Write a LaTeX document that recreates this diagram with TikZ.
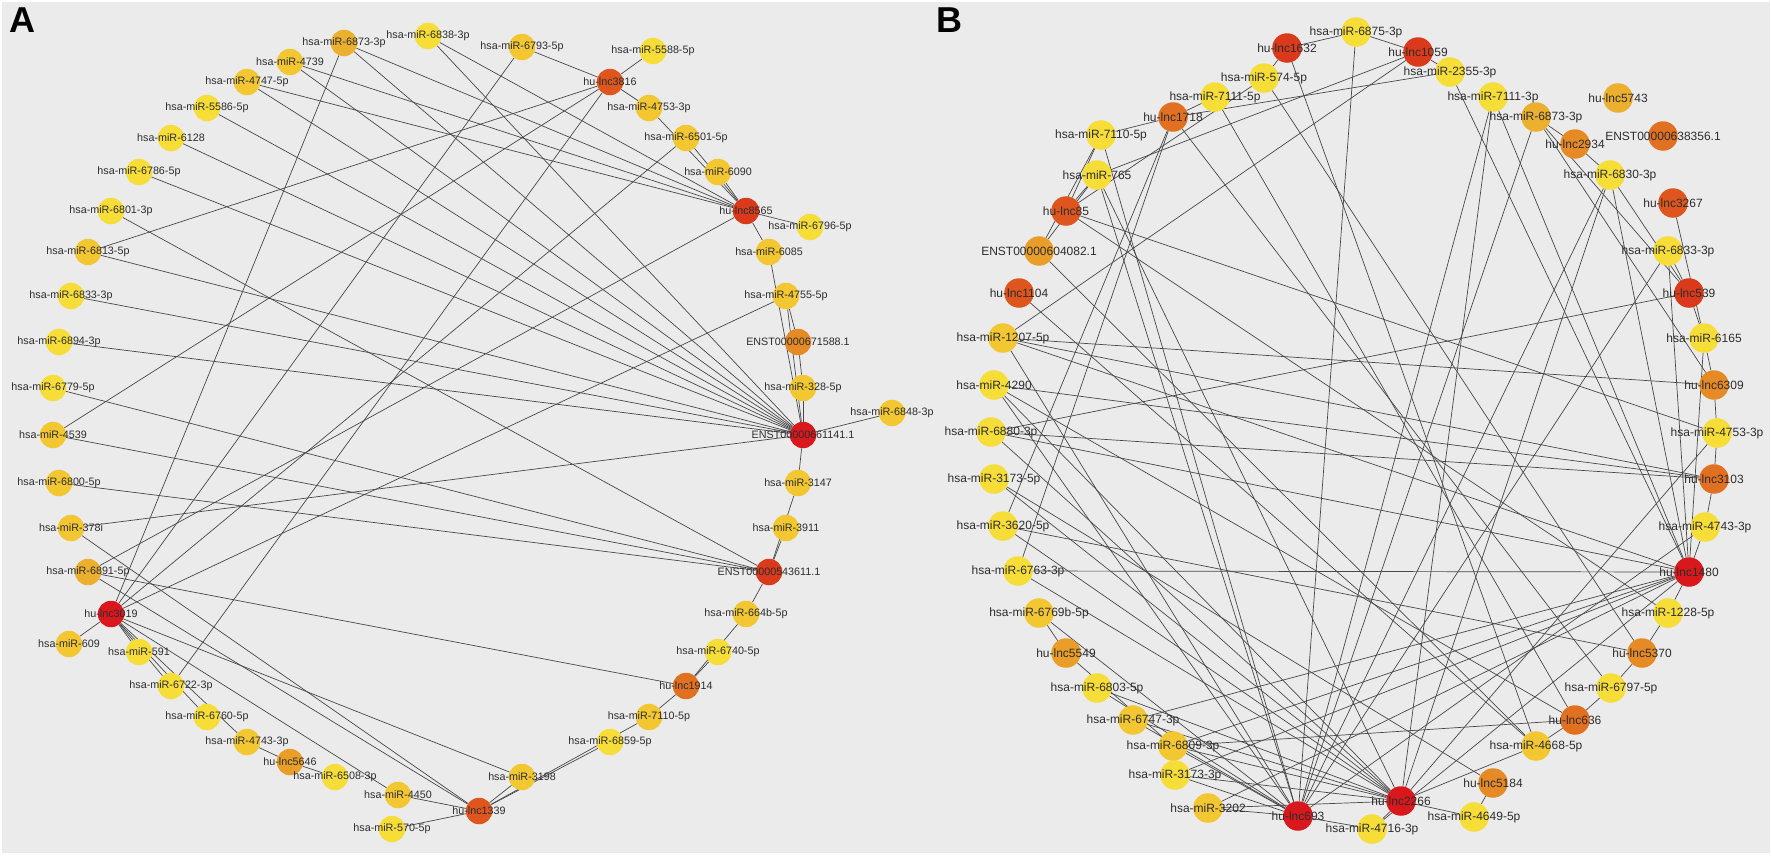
\documentclass[tikz,border=0pt]{standalone}
\usepackage{fontspec}
\setmainfont{Liberation Sans}
\usepackage{xcolor}
\usepackage{tikz}
\usetikzlibrary{positioning, backgrounds}
\definecolor{PanelGray}{RGB}{235,235,235}
\definecolor{EdgeGray}{RGB}{72,72,72}
\definecolor{TextGray}{RGB}{45,45,45}
\definecolor{cY}{RGB}{246,221,56}
\definecolor{cYb}{RGB}{242,199,50}
\definecolor{cG}{RGB}{234,176,46}
\definecolor{cGO}{RGB}{232,158,40}
\definecolor{cO}{RGB}{229,138,37}
\definecolor{cOd}{RGB}{226,112,33}
\definecolor{cRo}{RGB}{222,86,30}
\definecolor{cRd}{RGB}{218,58,27}
\definecolor{cR}{RGB}{216,24,29}
\tikzset{
	dotA/.style={circle, inner sep=0pt, minimum size=26.5pt, fill=#1},
	dotB/.style={circle, inner sep=0pt, minimum size=29.5pt, fill=#1},
	txtA/.style={inner sep=0pt, text=TextGray, font=\fontsize{10.75}{12}\selectfont},
	txtB/.style={inner sep=0pt, text=TextGray, font=\fontsize{12}{14}\selectfont},
	link/.style={draw=EdgeGray, line width=0.7pt},
	panel/.style={inner sep=0pt, font=\fontsize{36}{40}\selectfont\bfseries},
}
% panel A: name/x/y/colour/text
\def\nodesA{a6873/344/43/cG/hsa-miR-6873-3p, a6838/428/36/cY/hsa-miR-6838-3p,
	a4739/290/62/cYb/hsa-miR-4739, a4747/247/82/cYb/hsa-miR-4747-5p,
	a5586/207/108/cY/hsa-miR-5586-5p, a6128/171/138/cY/hsa-miR-6128,
	a6786/139/172/cY/hsa-miR-6786-5p, a6801/111/211/cY/hsa-miR-6801-3p,
	a6813/88/252/cYb/hsa-miR-6813-5p, a6833/71/296/cY/hsa-miR-6833-3p,
	a6894/59/342/cY/hsa-miR-6894-3p, a6779/53/388/cY/hsa-miR-6779-5p,
	a4539/53/435/cYb/hsa-miR-4539, a6800/59/483/cYb/hsa-miR-6800-5p,
	a378i/71/528/cYb/hsa-miR-378i, a6891/88/572/cG/hsa-miR-6891-5p,
	aL3019/111/614/cR/hu-lnc3019, a609/69/644/cYb/hsa-miR-609,
	a591/139/652/cY/hsa-miR-591, a6722/171/686/cY/hsa-miR-6722-3p,
	a6760/207/717/cY/hsa-miR-6760-5p, a4743/247/742/cYb/hsa-miR-4743-3p,
	aL5646/290/762/cGO/hu-lnc5646, a6508/335/777/cY/hsa-miR-6508-3p,
	a4450/398/795/cYb/hsa-miR-4450, a570/392/829/cY/hsa-miR-570-5p,
	aL1339/479/811/cRo/hu-lnc1339, a3198/522/777/cYb/hsa-miR-3198,
	a6859/610/742/cY/hsa-miR-6859-5p, a7110/649/717/cYb/hsa-miR-7110-5p,
	aL1914/686/686/cOd/hu-lnc1914, a6740/718/652/cY/hsa-miR-6740-5p,
	a664b/746/614/cYb/hsa-miR-664b-5p, aE543611/769/572/cRd/ENST00000543611.1,
	a3911/786/528/cYb/hsa-miR-3911, a3147/798/483/cYb/hsa-miR-3147,
	aE661141/803/435/cR/ENST00000661141.1, a6848/892/413/cYb/hsa-miR-6848-3p,
	a328/803/388/cYb/hsa-miR-328-5p, aE671588/798/342/cO/ENST00000671588.1,
	a4755/786/296/cYb/hsa-miR-4755-5p, a6085/769/252/cYb/hsa-miR-6085,
	a6796/810/227/cY/hsa-miR-6796-5p, aL8565/746/211/cRd/hu-lnc8565,
	a6090/718/172/cYb/hsa-miR-6090, a6501/686/138/cYb/hsa-miR-6501-5p,
	a4753/649/108/cYb/hsa-miR-4753-3p, aL3816/610/82/cRo/hu-lnc3816,
	a5588/653/51/cY/hsa-miR-5588-5p, a6793/522/47/cYb/hsa-miR-6793-5p}
% panel B
\def\nodesB{bL1632/1287/48/cRd/hu-lnc1632, b6875/1356/32/cY/hsa-miR-6875-3p,
	bL1059/1418/52/cRd/hu-lnc1059, b2355/1450/72/cY/hsa-miR-2355-3p,
	b7111t/1493/97/cY/hsa-miR-7111-3p, b6873/1536/117/cG/hsa-miR-6873-3p,
	bL5743/1618/98/cG/hu-lnc5743, bL2934/1575/144/cO/hu-lnc2934,
	bE638356/1663/136/cOd/ENST00000638356.1, b6830/1610/175/cY/hsa-miR-6830-3p,
	bL3267/1673/203/cRo/hu-lnc3267, b6833/1668/251/cY/hsa-miR-6833-3p,
	bL539/1689/293/cRd/hu-lnc539, b6165/1704/338/cY/hsa-miR-6165,
	bL6309/1714/385/cO/hu-lnc6309, b4753/1717/433/cY/hsa-miR-4753-3p,
	bL3103/1714/479/cOd/hu-lnc3103, b4743/1705/527/cY/hsa-miR-4743-3p,
	bL1480/1689/572/cR/hu-lnc1480, b1228/1668/613/cY/hsa-miR-1228-5p,
	bL5370/1642/653/cO/hu-lnc5370, b6797/1611/688/cY/hsa-miR-6797-5p,
	bL636/1575/720/cOd/hu-lnc636, b4668/1536/746/cYb/hsa-miR-4668-5p,
	bL5184/1493/783/cO/hu-lnc5184, b4649/1474/817/cY/hsa-miR-4649-5p,
	bL2266/1401/801/cR/hu-lnc2266, b4716/1372/829/cY/hsa-miR-4716-3p,
	bL693/1298/816/cR/hu-lnc693, b3202/1208/808/cYb/hsa-miR-3202,
	b3173t/1175/775/cY/hsa-miR-3173-3p, b6809/1173/746/cYb/hsa-miR-6809-3p,
	b6747/1133/720/cYb/hsa-miR-6747-3p, b6803/1097/688/cY/hsa-miR-6803-5p,
	bL5549/1066/653/cGO/hu-lnc5549, b6769b/1039/613/cYb/hsa-miR-6769b-5p,
	b6763/1018/571/cY/hsa-miR-6763-3p, b3620/1003/526/cY/hsa-miR-3620-5p,
	b3173f/994/479/cY/hsa-miR-3173-5p, b6880/991/432/cY/hsa-miR-6880-3p,
	b4290/994/385/cY/hsa-miR-4290, b1207/1003/338/cYb/hsa-miR-1207-5p,
	bL1104/1019/293/cRo/hu-lnc1104, bE604082/1039/251/cGO/ENST00000604082.1,
	bL85/1066/211/cRo/hu-lnc85, b765/1097/175/cY/hsa-miR-765,
	b7110/1101/135/cY/hsa-miR-7110-5p, bL1718/1173/117/cOd/hu-lnc1718,
	b7111f/1215/97/cY/hsa-miR-7111-5p, b574/1264/78/cY/hsa-miR-574-5p}

\begin{document}
\begin{tikzpicture}[x=1pt,y=-1pt]
	\useasboundingbox (0,0) rectangle (1772,855);

	\foreach \n/\x/\y/\c/\t in \nodesA
		\node[dotA=\c] (\n) at (\x,\y) {};
	\foreach \n/\x/\y/\c/\t in \nodesB
		\node[dotB=\c] (\n) at (\x,\y) {};

	\foreach \n/\x/\y/\c/\t in \nodesA
		\node[txtA] (\n-t) at (\n) {\t};
	\foreach \n/\x/\y/\c/\t in \nodesB
		\node[txtB] (\n-t) at (\n) {\t};

	\node[panel] (lblA) at (22.5,20) {A};
	\node[panel] (lblB) at (949,20) {B};

	\begin{scope}[on background layer]
		\fill[PanelGray] (2,2) rectangle (1770,853);
		% panel A links
		\foreach \u/\v in {aE661141/a6873, aE661141/a6838, aE661141/a4739, aE661141/a4747,
			aE661141/a5586, aE661141/a6128, aE661141/a6786, aE661141/a6813, aE661141/a6833,
			aE661141/a6894, aE661141/a378i, aE661141/a6848, aE661141/a328, aE661141/a4755,
			aE661141/a6085, aE661141/a3147,
			aL8565/a6873, aL8565/a6838, aL8565/a4739, aL8565/a4747, aL8565/a6090,
			aL8565/a6501, aL8565/a4753, aL8565/a6796, aL8565/a6085, aL8565/a6891,
			aL3816/a6793, aL3816/a5588, aL3816/a4753, aL3816/a6813, aL3816/a4539, aL3816/a6722,
			aL3019/a6873, aL3019/a6793, aL3019/a6501, aL3019/a4755, aL3019/a609, aL3019/a591,
			aL3019/a6722, aL3019/a6760, aL3019/a4743, aL3019/a3198, aL3019/a4450,
			aE543611/a6779, aE543611/a4539, aE543611/a6800, aE543611/a6801, aE543611/a3911,
			aE543611/a664b, aE543611/a3147,
			aL1339/a378i, aL1339/a6891, aL1339/a4450, aL1339/a570, aL1339/a3198,
			aL1339/a6859, aL1339/a7110,
			aL1914/a6891, aL1914/a6740, aL1914/a664b, aL1914/a7110,
			aL5646/a4743, aL5646/a6508, aE671588/a4755, aE671588/a328}
			\draw[link] (\u) -- (\v);
		% panel B links
		\foreach \u/\v in {bL1632/b574, bL1632/b6875, bL1632/b4668,
			bL1059/b6875, bL1059/b2355, bL1059/b765, bL1059/b1207,
			bL1718/b2355, bL1718/b7110, bL1718/b7111f, bL1718/b6763, bL1718/b3620, bL1718/b6797,
			bL85/b574, bL85/b7110, bL85/b765, bL85/b1228, bL85/b4753,
			bE604082/b765, bE604082/b7110, bE604082/b4668, bL1104/b4668,
			bL2934/b6873, bL2934/b6830,
			bL539/b6873, bL539/b6830, bL539/b6833, bL539/b6165, bL539/b6880, bL3267/b6165,
			bL6309/b6873, bL6309/b6165, bL6309/b4753, bL6309/b1207,
			bL3103/b4753, bL3103/b4743, bL3103/b6880, bL3103/b4290, bL3103/b1207,
			bL1480/b2355, bL1480/b7111t, bL1480/b6830, bL1480/b6833, bL1480/b6165,
			bL1480/b4743, bL1480/b1228, bL1480/b4716, bL1480/b3202, bL1480/b3173t,
			bL1480/b6809, bL1480/b6747, bL1480/b6763, bL1480/b6880, bL1480/b1207,
			bL5370/b1228, bL5370/b6797, bL5370/b574, bL5370/b3620,
			bL636/b6797, bL636/b4668, bL636/b6809, bL636/b4290, bL636/b7111f,
			bL5184/b4649, bL5184/b3173f,
			bL2266/b4649, bL2266/b4716, bL2266/b4668, bL2266/b4753, bL2266/b6830,
			bL2266/b7111t, bL2266/b3202, bL2266/b3173t, bL2266/b6809, bL2266/b6747,
			bL2266/b6803, bL2266/b6763, bL2266/b3620, bL2266/b3173f, bL2266/b6880,
			bL2266/b4290, bL2266/b765,
			bL693/b6875, bL693/b7111t, bL693/b6873, bL693/b6830, bL693/b6833, bL693/b4743,
			bL693/b4716, bL693/b3202, bL693/b3173t, bL693/b6809, bL693/b6747, bL693/b6803,
			bL693/b6769b, bL693/b4290, bL693/b1207, bL693/b765, bL693/b7110,
			bL5549/b6769b, bL5549/b6809}
			\draw[link] (\u) -- (\v);
	\end{scope}
\end{tikzpicture}
\end{document}
